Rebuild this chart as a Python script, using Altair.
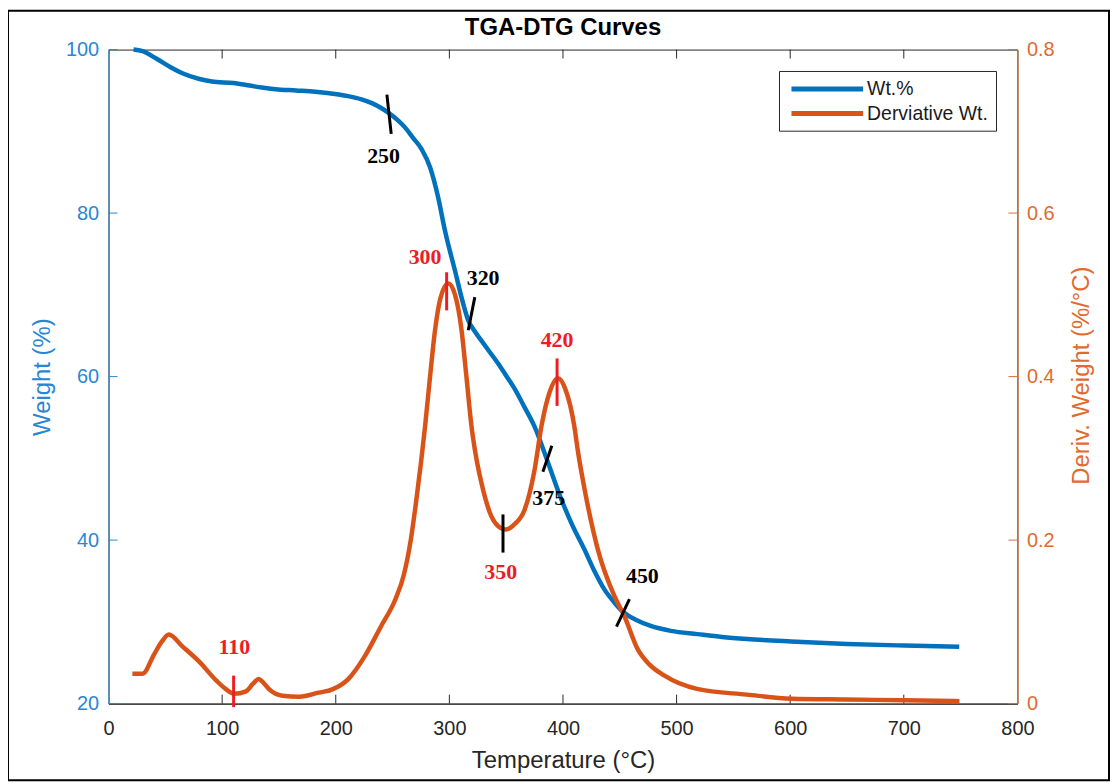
import altair as alt
import pandas as pd

# ---------------- data ----------------
tga_temp = [22, 30, 42, 55, 65, 80, 91, 110, 124, 135,
            147, 165, 182, 202.6, 211, 222, 231.8, 240, 246.5, 255,
            261.1, 268, 275.7, 283, 290, 296.2, 304.9, 312.2, 316.6, 322,
            328.2, 335, 342.9, 350, 357.5, 366, 375.3, 386, 398.5, 408,
            418.8, 427, 436.3, 445, 453, 465, 477.2, 495, 518.3, 540,
            562, 600.7, 650, 700.6, 748.8]
tga_wt = [100, 99.8, 98.9, 97.8, 97.1, 96.4, 96.1, 95.9, 95.6, 95.35,
          95.15, 95.0, 94.85, 94.5, 94.3, 93.95, 93.45, 92.85, 92.25, 91.3,
          90.45, 89.2, 87.8, 85.6, 82.0, 77.8, 72.97, 68.9, 66.88, 65.6,
          64.4, 63.1, 61.6, 60.1, 58.5, 56.3, 53.8, 49.8, 45.0, 41.9,
          38.87, 36.4, 34.0, 32.4, 31.2, 30.2, 29.5, 28.9, 28.5, 28.15,
          27.9, 27.6, 27.3, 27.1, 26.95]

dtg_temp = [21, 30, 40, 47, 53, 65, 80, 95, 103, 110.5,
            121, 127, 132, 136, 141, 153, 168, 185, 197, 211,
            226, 240, 252.6, 260, 266, 271, 278.6, 283, 287.4, 292,
            299, 305, 310.7, 315, 319.5, 322.5, 328.2, 337, 343, 350,
            357, 366.2, 375, 381, 388, 395.6, 402, 410, 413, 420,
            430.6, 445.1, 453.9, 465.6, 476, 489, 518, 561.8, 601, 650,
            701, 749]
dtg_val = [0.0365, 0.0365, 0.06, 0.076, 0.0845, 0.07, 0.051, 0.028, 0.018, 0.012,
           0.015, 0.024, 0.030, 0.026, 0.018, 0.0097, 0.0085, 0.0134, 0.0174, 0.030,
           0.059, 0.095, 0.128, 0.158, 0.2, 0.25, 0.339, 0.40, 0.457, 0.495,
           0.514, 0.50, 0.457, 0.40, 0.339, 0.31, 0.27, 0.229, 0.217, 0.213,
           0.219, 0.237, 0.286, 0.339, 0.38, 0.398, 0.385, 0.339, 0.31, 0.255,
           0.189, 0.132, 0.1075, 0.067, 0.048, 0.0345, 0.018, 0.011, 0.006, 0.005,
           0.004, 0.003]

# annotation marks (temperature, deriv. weight units)
seg_x1 = [245.0, 322.4, 390.2, 458.5, 347.2, 110.1, 297.6, 394.8]
seg_x2 = [248.8, 316.6, 382.3, 447.1, 347.2, 110.1, 297.6, 394.8]
seg_y1 = [0.7448, 0.4972, 0.3154, 0.1278, 0.2314, 0.0342, 0.5276, 0.4222]
seg_y2 = [0.6969, 0.4566, 0.2837, 0.0941, 0.1847, -0.0043, 0.4810, 0.3641]
seg_color = ["#000000", "#000000", "#000000", "#000000", "#000000",
             "#EE1C25", "#EE1C25", "#EE1C25"]

lab_text = ["250", "320", "375", "450", "110", "300", "350", "420"]
lab_x = [242.1, 329.7, 387.5, 469.9, 110.7, 278.6, 345.2, 394.8]
lab_y = [0.6697, 0.52, 0.2517, 0.1562, 0.0692, 0.5459, 0.1611, 0.4444]
lab_color = ["#000000", "#000000", "#000000", "#000000",
             "#EE1C25", "#EE1C25", "#EE1C25", "#EE1C25"]

x_ticks = [0, 100, 200, 300, 400, 500, 600, 700, 800]
w_ticks = [20, 40, 60, 80, 100]
d_ticks = [0, 0.2, 0.4, 0.6, 0.8]

series_names = ["Wt.%", "Derviative Wt."]
chart_title = "TGA-DTG Curves"

# ---------------- styling ----------------
BLUE = "#0072BD"
BLUE_AX = "#2A86D3"
ORANGE = "#D95319"
ORANGE_AX = "#E26A2E"
GRAY = "#262626"
FONT = "Liberation Sans"
W, H = 913, 657

tga = pd.DataFrame({"T": tga_temp, "W": tga_wt})
dtg = pd.DataFrame({"T": dtg_temp, "D": dtg_val})
segs = pd.DataFrame({"x1": seg_x1, "x2": seg_x2, "y1": seg_y1, "y2": seg_y2, "c": seg_color})
labs = pd.DataFrame({"t": lab_text, "x": lab_x, "y": lab_y, "c": lab_color})
xt = pd.DataFrame({"T": x_ticks[1:-1]})
wt = pd.DataFrame({"W": w_ticks})
dt = pd.DataFrame({"D": d_ticks})
one = pd.DataFrame({"k": [0]})

xscale = alt.Scale(domain=[0, 800], nice=False, zero=False)
wscale = alt.Scale(domain=[20, 100], nice=False, zero=False)
dscale = alt.Scale(domain=[0, 0.8], nice=False, zero=False)

x_axis = alt.Axis(values=x_ticks, title="Temperature (°C)", orient="bottom")

border = alt.Chart(one).mark_rect(fillOpacity=0, stroke="black", strokeWidth=2).encode(
    x=alt.value(-101), x2=alt.value(1005), y=alt.value(-39), y2=alt.value(734))
title_mark = alt.Chart(one).mark_text(text=chart_title, font=FONT, fontSize=24, fontWeight="bold",
                                      color="black", align="center", baseline="middle").encode(
    x=alt.value(W / 2), y=alt.value(-22))

blue_line = alt.Chart(tga).mark_line(color=BLUE, strokeWidth=4.5, interpolate="monotone").encode(
    x=alt.X("T:Q", scale=xscale, axis=x_axis),
    y=alt.Y("W:Q", scale=wscale,
            axis=alt.Axis(values=w_ticks, title="Weight (%)", orient="left")))

xt_bottom = alt.Chart(xt).mark_rule(color=GRAY, strokeWidth=1).encode(
    x=alt.X("T:Q", scale=xscale, axis=x_axis), y=alt.value(H), y2=alt.value(H - 9))
xt_top = alt.Chart(xt).mark_rule(color=GRAY, strokeWidth=1).encode(
    x=alt.X("T:Q", scale=xscale, axis=x_axis), y=alt.value(0), y2=alt.value(9))
wt_rules = alt.Chart(wt).mark_rule(color=BLUE_AX, strokeWidth=1).encode(
    y=alt.Y("W:Q", scale=wscale, axis=None), x=alt.value(0), x2=alt.value(9))

orange_line = alt.Chart(dtg).mark_line(color=ORANGE, strokeWidth=4.5, interpolate="monotone").encode(
    x=alt.X("T:Q", scale=xscale, axis=x_axis),
    y=alt.Y("D:Q", scale=dscale,
            axis=alt.Axis(values=d_ticks, format="~g", title="Deriv. Weight (%/°C)", orient="right")))
dt_rules = alt.Chart(dt).mark_rule(color=ORANGE_AX, strokeWidth=1).encode(
    y=alt.Y("D:Q", scale=dscale, axis=None), x=alt.value(W), x2=alt.value(W - 9))
seg_rules = alt.Chart(segs).mark_rule(strokeWidth=3).encode(
    x=alt.X("x1:Q", scale=xscale, axis=x_axis), x2="x2:Q",
    y=alt.Y("y1:Q", scale=dscale, axis=None), y2="y2:Q",
    color=alt.Color("c:N", scale=None))
labels = alt.Chart(labs).mark_text(font="Liberation Serif", fontWeight="bold", fontSize=22,
                                   align="center", baseline="middle").encode(
    x=alt.X("x:Q", scale=xscale, axis=x_axis),
    y=alt.Y("y:Q", scale=dscale, axis=None),
    text="t:N", color=alt.Color("c:N", scale=None))

# legend box
leg_parts = [alt.Chart(one).mark_rect(fill="white", stroke=GRAY, strokeWidth=1).encode(
    x=alt.value(674), x2=alt.value(892), y=alt.value(22), y2=alt.value(82))]
for i, (name, col) in enumerate(zip(series_names, [BLUE, ORANGE])):
    yy = 39.7 + i * 24.6
    leg_parts.append(alt.Chart(one).mark_rule(color=col, strokeWidth=5).encode(
        x=alt.value(686), x2=alt.value(758), y=alt.value(yy)))
    leg_parts.append(alt.Chart(one).mark_text(text=name, font=FONT, fontSize=19.5, color="#1a1a1a",
                                              align="left", baseline="middle").encode(
        x=alt.value(762), y=alt.value(yy)))

chart = alt.layer(
    border, title_mark, blue_line, xt_bottom, xt_top, wt_rules,
    orange_line, dt_rules, seg_rules, labels, *leg_parts
).resolve_scale(y="independent").properties(
    width=W, height=H,
    padding={"left": 101, "top": 40, "right": 93, "bottom": 78},
    autosize=alt.AutoSizeParams(type="none"),
).configure_view(
    stroke=GRAY, strokeWidth=1
).configure_axis(
    ticks=False, grid=False, domainWidth=1, labelFont=FONT, labelFontSize=20,
    labelFlush=False, titleFont=FONT, titleFontSize=24, titleFontWeight="normal"
).configure_axisBottom(
    domainColor=GRAY, labelColor=GRAY, titleColor=GRAY, labelPadding=15,
    titleY=57, titleBaseline="middle"
).configure_axisLeft(
    domainColor=BLUE_AX, labelColor=BLUE_AX, titleColor=BLUE_AX, labelPadding=10,
    titleAngle=270, titleX=-66, titleY=328.5, titleBaseline="middle", titleAlign="center"
).configure_axisRight(
    domainColor=ORANGE_AX, labelColor=ORANGE_AX, titleColor=ORANGE_AX, labelPadding=9,
    titleAngle=270, titleX=64, titleY=327, titleBaseline="middle", titleAlign="center"
)

chart.save("out.html", embed_options={"renderer": "svg", "actions": False})
